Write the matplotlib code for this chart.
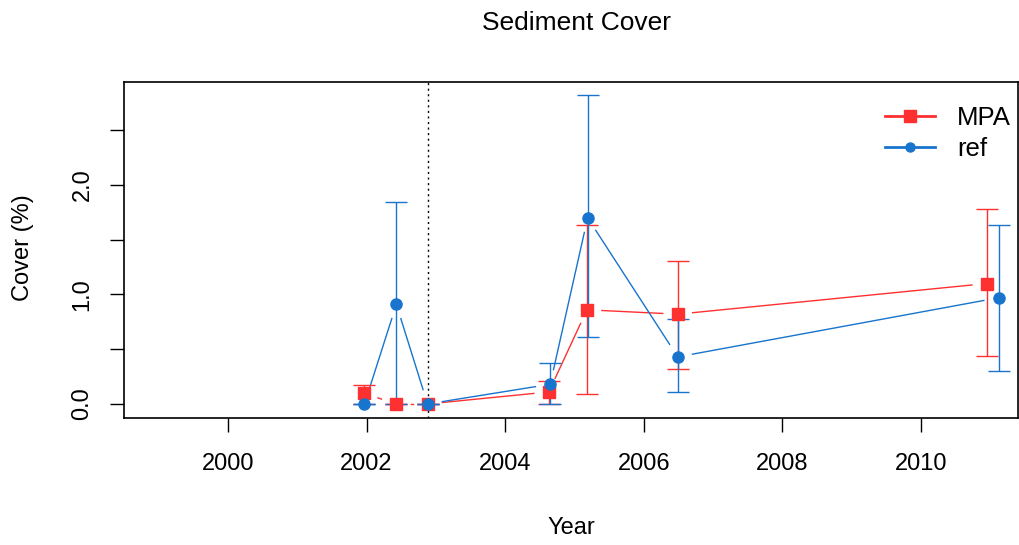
import matplotlib
matplotlib.use("Agg")
import matplotlib.pyplot as plt
from matplotlib.lines import Line2D
import numpy as np

plt.rcParams['font.family'] = ['Liberation Sans', 'DejaVu Sans']

# ---- data ----
mpa_year = [2001.96, 2002.42, 2002.88, 2004.63, 2005.18, 2006.49, 2010.95]
mpa_cover = [0.10, 0.00, 0.00, 0.11, 0.86, 0.82, 1.10]
mpa_lo = [0.00, 0.00, 0.00, 0.00, 0.09, 0.32, 0.44]
mpa_hi = [0.17, 0.00, 0.00, 0.21, 1.63, 1.31, 1.78]

ref_year = [2001.97, 2002.43, 2002.88, 2004.65, 2005.19, 2006.49, 2011.12]
ref_cover = [0.00, 0.91, 0.00, 0.18, 1.70, 0.43, 0.97]
ref_lo = [0.00, 0.00, 0.00, 0.00, 0.61, 0.11, 0.30]
ref_hi = [0.00, 1.84, 0.00, 0.375, 2.82, 0.78, 1.63]

x_ticks = [2000, 2002, 2004, 2006, 2008, 2010]
y_ticks = [0.0, 0.5, 1.0, 1.5, 2.0, 2.5]
y_labels = ["0.0", "", "1.0", "", "2.0", ""]
marker_year = 2002.88

RED = "#FF3030"
BLUE = "#1874CD"

fig = plt.figure(figsize=(10.19, 5.45), dpi=100)
ax = fig.add_axes([124 / 1019, 1 - 418 / 545, (1018 - 124) / 1019, (418 - 82) / 545])
ax.set_xlim(1998.5, 2011.4)
ax.set_ylim(-0.128, 2.94)

fig.canvas.draw()


def b_lines(x, y, color, gap=15):
    pts = ax.transData.transform(np.column_stack([x, y]))
    inv = ax.transData.inverted()
    for i in range(len(pts) - 1):
        p0, p1 = pts[i], pts[i + 1]
        d = p1 - p0
        L = np.hypot(*d)
        if L <= 2 * gap:
            continue
        u = d / L
        a = inv.transform(p0 + u * gap)
        b = inv.transform(p1 - u * gap)
        ax.plot([a[0], b[0]], [a[1], b[1]], color=color, lw=1.0, zorder=2)


def errs(x, y, lo, hi, color, marker, ms):
    y = np.array(y); lo = np.array(lo); hi = np.array(hi)
    ax.errorbar(x, y, yerr=[y - lo, hi - y], fmt="none", ecolor=color,
                elinewidth=1.0, capsize=8, capthick=1.0, zorder=3)
    ax.plot(x, y, linestyle="none", marker=marker, color=color, ms=ms, zorder=4)


b_lines(mpa_year, mpa_cover, RED)
b_lines(ref_year, ref_cover, BLUE)
errs(mpa_year, mpa_cover, mpa_lo, mpa_hi, RED, "s", 9.3)
errs(ref_year, ref_cover, ref_lo, ref_hi, BLUE, "o", 8)

ax.axvline(marker_year, color="black", lw=1.0, linestyle=(0, (1.5, 2.5)), zorder=1)

ax.set_xticks(x_ticks)
ax.set_xticklabels([str(t) for t in x_ticks], fontsize=17)
ax.set_yticks(y_ticks)
ax.set_yticklabels(y_labels, fontsize=17, rotation=90, va="center")
ax.tick_params(direction="out", length=10, width=1.0)
ax.tick_params(axis="x", pad=15)
ax.tick_params(axis="y", pad=12)
for s in ax.spines.values():
    s.set_linewidth(1.2)

ax.set_xlabel("Year", fontsize=17)
ax.xaxis.set_label_coords(0.5, -(528 - 418) / (418 - 82))
ax.xaxis.label.set_va("center")
ax.set_ylabel("Cover (%)", fontsize=17)
ax.yaxis.set_label_coords(-(124 - 23) / (1018 - 124), (418 - 248) / (418 - 82))
ax.yaxis.label.set_va("center")
fig.text(577 / 1019, 1 - 23 / 545, "Sediment Cover", ha="center", va="center", fontsize=19)

handles = [Line2D([], [], color=RED, marker="s", ms=8, lw=2),
           Line2D([], [], color=BLUE, marker="o", ms=6.5, lw=2)]
ax.legend(handles, ["MPA", "ref"], loc="upper left", frameon=False, fontsize=18.5,
          handlelength=1.95, handletextpad=0.86, labelspacing=0.27,
          borderpad=0, borderaxespad=0,
          bbox_to_anchor=((885 - 124) / (1018 - 124), (418 - 106) / (418 - 82)))

fig.savefig("out.png", dpi=100)
